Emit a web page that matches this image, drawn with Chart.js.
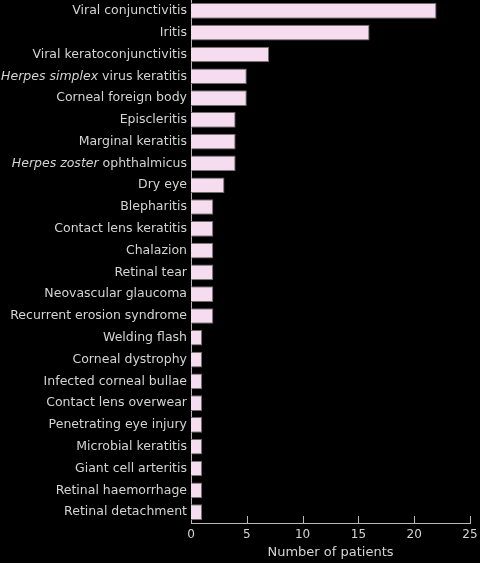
<!DOCTYPE html>
<html>
<head>
<meta charset="utf-8">
<script src="https://cdn.jsdelivr.net/npm/chart.js@4/dist/chart.umd.min.js"></script>
<style>
  html, body { margin: 0; padding: 0; background: #000; }
  #wrap { width: 480px; height: 563px; position: relative; }
</style>
</head>
<body>
<div id="wrap"><canvas id="chart"></canvas></div>
<script>
// Diagnoses, top to bottom
const diagnoses = [
  "Viral conjunctivitis",
  "Iritis",
  "Viral keratoconjunctivitis",
  "Herpes simplex virus keratitis",
  "Corneal foreign body",
  "Episcleritis",
  "Marginal keratitis",
  "Herpes zoster ophthalmicus",
  "Dry eye",
  "Blepharitis",
  "Contact lens keratitis",
  "Chalazion",
  "Retinal tear",
  "Neovascular glaucoma",
  "Recurrent erosion syndrome",
  "Welding flash",
  "Corneal dystrophy",
  "Infected corneal bullae",
  "Contact lens overwear",
  "Penetrating eye injury",
  "Microbial keratitis",
  "Giant cell arteritis",
  "Retinal haemorrhage",
  "Retinal detachment"
];

// Number of patients per diagnosis
const patients = [22, 16, 7, 5, 5, 4, 4, 4, 3, 2, 2, 2, 2, 2, 2, 1, 1, 1, 1, 1, 1, 1, 1, 1];

// Species names set in italics
const italicParts = ["Herpes simplex", "Herpes zoster"];

const xTicks = [0, 5, 10, 15, 20, 25];

const textColor = "#d4d4d4";
const axisColor = "#b8b8b8";
const labelFont = "DejaVu Sans";

// Draws the category labels so that part of a label can be italic
const mixedLabels = {
  id: "mixedLabels",
  afterDraw(chart) {
    const ctx = chart.ctx;
    const yScale = chart.scales.y;
    const right = yScale.right - 4;
    ctx.save();
    ctx.fillStyle = textColor;
    ctx.textBaseline = "middle";
    diagnoses.forEach((label, i) => {
      const y = yScale.getPixelForTick(i);
      const prefix = italicParts.find((p) => label.startsWith(p));
      const italic = prefix || "";
      const rest = label.slice(italic.length);
      ctx.font = `12.5px "${labelFont}"`;
      const restW = ctx.measureText(rest).width;
      ctx.font = `italic 12.5px "${labelFont}"`;
      const italW = ctx.measureText(italic).width;
      let x = right - restW - italW;
      ctx.textAlign = "left";
      if (italic) {
        ctx.font = `italic 12.5px "${labelFont}"`;
        ctx.fillText(italic, x, y);
        x += italW;
      }
      ctx.font = `12.5px "${labelFont}"`;
      ctx.fillText(rest, x, y);
    });
    ctx.restore();
  }
};

// Short tick marks pointing into the plot from the x axis
const innerTicks = {
  id: "innerTicks",
  afterDatasetsDraw(chart) {
    const ctx = chart.ctx;
    const xScale = chart.scales.x;
    const bottom = chart.chartArea.bottom;
    ctx.save();
    ctx.strokeStyle = axisColor;
    ctx.lineWidth = 1;
    xTicks.forEach((v) => {
      if (v === 0) return;
      const x = Math.round(xScale.getPixelForValue(v)) + 0.5;
      ctx.beginPath();
      ctx.moveTo(x, bottom);
      ctx.lineTo(x, bottom - 7);
      ctx.stroke();
    });
    ctx.restore();
  }
};

const ctx = document.getElementById("chart").getContext("2d");
new Chart(ctx, {
  type: "bar",
  data: {
    labels: diagnoses,
    datasets: [
      {
        data: patients,
        backgroundColor: "#f6dcef",
        borderColor: "#6c6c6c",
        borderWidth: 1,
        barPercentage: 0.72,
        categoryPercentage: 1
      }
    ]
  },
  options: {
    indexAxis: "y",
    responsive: true,
    maintainAspectRatio: false,
    animation: false,
    layout: { padding: { left: 0, right: 10, top: 0, bottom: 0 } },
    plugins: {
      legend: { display: false },
      tooltip: { enabled: false }
    },
    scales: {
      x: {
        min: 0,
        max: 25,
        afterBuildTicks: (scale) => {
          scale.ticks = xTicks.map((v) => ({ value: v }));
        },
        afterFit: (scale) => {
          scale.height = 40;
          scale.paddingLeft = 0;
          scale.paddingRight = 0;
        },
        grid: { display: false, drawTicks: false },
        border: { display: true, color: axisColor, width: 1 },
        ticks: {
          color: textColor,
          padding: 5,
          maxRotation: 0,
          font: { family: labelFont, size: 12 }
        },
        title: {
          display: true,
          text: "Number of patients",
          color: textColor,
          padding: { top: 0, bottom: 3 },
          font: { family: labelFont, size: 13 }
        }
      },
      y: {
        afterFit: (scale) => {
          scale.width = 191;
          scale.paddingTop = 0;
          scale.paddingBottom = 0;
        },
        grid: { display: false, drawTicks: false },
        border: { display: true, color: axisColor, width: 1 },
        ticks: {
          color: "rgba(0,0,0,0)",
          autoSkip: false,
          font: { family: labelFont, size: 1 }
        }
      }
    }
  },
  plugins: [innerTicks, mixedLabels]
});
</script>
</body>
</html>
